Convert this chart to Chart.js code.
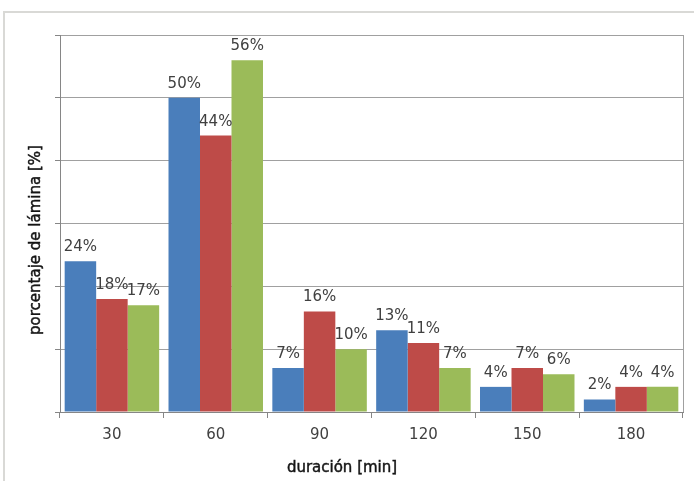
<!DOCTYPE html>
<html>
<head>
<meta charset="utf-8">
<script src="https://cdn.jsdelivr.net/npm/chart.js@4.4.1/dist/chart.umd.min.js"></script>
<style>
  html, body { margin: 0; padding: 0; background: #ffffff; overflow: hidden; }
  canvas { display: block; }
</style>
</head>
<body>
<canvas id="c" width="694" height="481"></canvas>
<script>
// Duration categories (minutes)
const categories = ['30', '60', '90', '120', '150', '180'];
// Share of the applied water depth per duration, three series
const serieA = [24, 50, 7, 13, 4, 2];
const serieB = [18, 44, 16, 11, 7, 4];
const serieC = [17, 56, 10, 7, 6, 4];
const colors = ['#4a7ebb', '#be4b48', '#9bbb59'];
const xTitle = 'duración [min]';
const yTitle = 'porcentaje de lámina [%]';

const FONT = "'DejaVu Sans', 'Noto Sans', sans-serif";

// Light outer frame along the left and top edges
const framePlugin = {
  id: 'outerFrame',
  beforeDraw(chart) {
    const ctx = chart.ctx;
    ctx.save();
    ctx.strokeStyle = '#d9d9d6';
    ctx.lineWidth = 2;
    ctx.beginPath();
    ctx.moveTo(4, chart.height);
    ctx.lineTo(4, 12);
    ctx.lineTo(chart.width, 12);
    ctx.stroke();
    ctx.restore();
  }
};

// Value labels above each bar, axis titles and the right edge of the plot frame
const labelPlugin = {
  id: 'barLabels',
  afterDatasetsDraw(chart) {
    const ctx = chart.ctx;
    ctx.save();
    ctx.font = '15px ' + FONT;
    ctx.fillStyle = '#404040';
    ctx.textAlign = 'center';
    ctx.textBaseline = 'alphabetic';
    chart.data.datasets.forEach((ds, i) => {
      const meta = chart.getDatasetMeta(i);
      meta.data.forEach((bar, j) => {
        ctx.fillText(ds.data[j] + '%', bar.x, bar.y - 10);
      });
    });
    const a = chart.chartArea;
    ctx.strokeStyle = '#a0a0a0';
    ctx.lineWidth = 1;
    ctx.beginPath();
    ctx.moveTo(Math.round(a.right) + 0.5, a.top);
    ctx.lineTo(Math.round(a.right) + 0.5, a.bottom);
    ctx.stroke();

    // axis titles, medium weight
    ctx.font = '15px ' + FONT;
    ctx.fillStyle = '#151515';
    ctx.strokeStyle = '#151515';
    ctx.lineWidth = 0.45;
    ctx.textAlign = 'center';
    ctx.textBaseline = 'alphabetic';
    ctx.fillText(xTitle, 342, 472);
    ctx.strokeText(xTitle, 342, 472);
    ctx.translate(40, 240);
    ctx.rotate(-Math.PI / 2);
    ctx.fillText(yTitle, 0, 0);
    ctx.strokeText(yTitle, 0, 0);
    ctx.restore();
  }
};

new Chart(document.getElementById('c'), {
  type: 'bar',
  data: {
    labels: categories,
    datasets: [
      { label: 'A', data: serieA, backgroundColor: colors[0] },
      { label: 'B', data: serieB, backgroundColor: colors[1] },
      { label: 'C', data: serieC, backgroundColor: colors[2] }
    ]
  },
  options: {
    responsive: false,
    animation: false,
    devicePixelRatio: 1,
    layout: { padding: { left: 0, top: 35, right: 11, bottom: 0 } },
    datasets: { bar: { categoryPercentage: 0.91, barPercentage: 1.0 } },
    plugins: { legend: { display: false }, tooltip: { enabled: false } },
    scales: {
      x: {
        grid: { drawOnChartArea: false, drawTicks: true, tickLength: 6, color: '#868686' },
        border: { color: '#868686' },
        ticks: { color: '#404040', font: { family: FONT, size: 15 }, padding: 8 },
        afterFit(s) { s.height = 69; }
      },
      y: {
        min: 0, max: 60,
        ticks: { display: false, stepSize: 10 },
        grid: { color: '#a0a0a0', tickLength: 5, tickColor: '#868686' },
        border: { color: '#868686' },
        afterFit(s) { s.width = 60; }
      }
    }
  },
  plugins: [framePlugin, labelPlugin]
});
</script>
</body>
</html>
